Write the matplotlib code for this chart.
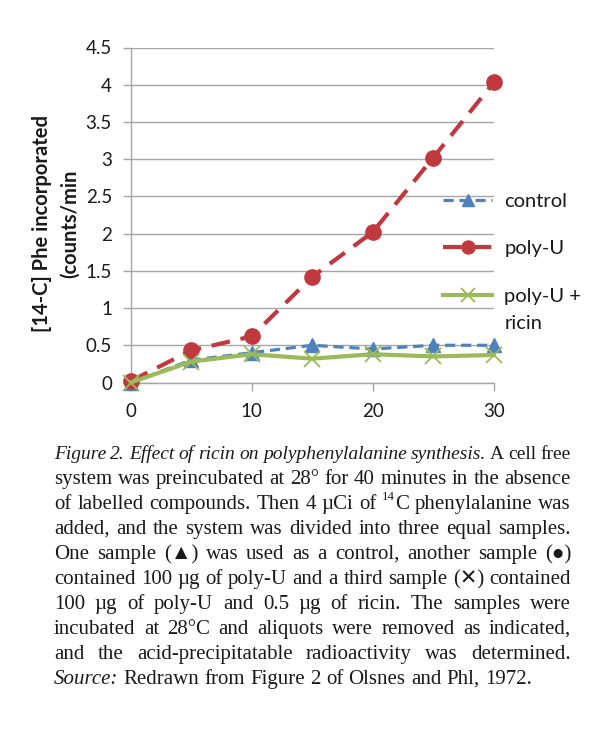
import matplotlib
matplotlib.use('Agg')
import matplotlib.pyplot as plt

# ---------------- data ----------------
time_min = [0, 5, 10, 15, 20, 25, 30]
control = [0.0, 0.30, 0.40, 0.50, 0.45, 0.50, 0.50]
poly_u = [0.02, 0.43, 0.62, 1.42, 2.02, 3.02, 4.03]
poly_u_ricin = [0.0, 0.28, 0.38, 0.32, 0.38, 0.35, 0.37]
series_labels = ['control', 'poly-U', 'poly-U +\nricin']
x_ticks = [0, 10, 20, 30]
y_ticks = [0, 0.5, 1, 1.5, 2, 2.5, 3, 3.5, 4, 4.5]
y_tick_labels = ['0', '0.5', '1', '1.5', '2', '2.5', '3', '3.5', '4', '4.5']
y_label = '[14-C] Phe incorporated\n(counts/min'
caption_lines = [
    "*Figure 2. Effect of ricin on polyphenylalanine synthesis.* A cell free",
    "system was preincubated at 28° for 40 minutes in the absence",
    "of labelled compounds. Then 4 µCi of ^14^C phenylalanine was",
    "added, and the system was divided into three equal samples.",
    "One sample (▲) was used as a control, another sample (●)",
    "contained 100 µg of poly-U and a third sample (✕) contained",
    "100 µg of poly-U and 0.5 µg of ricin. The samples were",
    "incubated at 28°C and aliquots were removed as indicated,",
    "and the acid-precipitatable radioactivity was determined.",
    "*Source:* Redrawn from Figure 2 of Olsnes and Phl, 1972.",
]

W, H = 603, 745
fig = plt.figure(figsize=(W / 100, H / 100), dpi=100)
fig.patch.set_facecolor('white')

x0, x1 = 130.7, 493.7
ytop, ybot = 47.5, 382.5
ax = fig.add_axes([x0 / W, 1 - ybot / H, (x1 - x0) / W, (ybot - ytop) / H])

sans = ['Lato', 'DejaVu Sans']
grey = '#a6a6a6'
txt = '#1a1a1a'

ax.plot(time_min, control, color='#4f81bd', lw=2.3, dashes=(3.2, 1.8),
        marker='^', ms=10, mfc='#4f81bd', mec='#4f81bd', clip_on=False,
        label=series_labels[0].split('\n')[0], zorder=3)
ax.plot(time_min, poly_u, color='#c0393f', lw=3, dashes=(4.5, 2.6),
        marker='o', ms=11, mfc='#c0393f', mec='#c0393f', clip_on=False,
        label=series_labels[1].split('\n')[0], zorder=3)
ax.plot(time_min, poly_u_ricin, color='#9bbb59', lw=3,
        marker='x', ms=12, mew=1.3, mec='#9bbb59', clip_on=False,
        label=series_labels[2].split('\n')[0], zorder=4)

ax.set_xlim(0, 30)
ax.set_ylim(0, 4.5)
ax.set_xticks(x_ticks)
ax.set_yticks(y_ticks)
ax.set_yticklabels(y_tick_labels)
ax.yaxis.grid(True, color=grey, lw=1)
ax.set_axisbelow(True)
for s in ['top', 'right']:
    ax.spines[s].set_visible(False)
for s in ['left', 'bottom']:
    ax.spines[s].set_color(grey)
    ax.spines[s].set_linewidth(1)
ax.tick_params(axis='y', length=5.5, width=1, color=grey, pad=8,
               labelsize=13.5, labelcolor=txt)
ax.tick_params(axis='x', length=5.5, width=1, color=grey, pad=9,
               labelsize=13.5, labelcolor=txt)
for lab in ax.get_xticklabels() + ax.get_yticklabels():
    lab.set_family(sans)

fig.text(56 / W, 1 - 224 / H, y_label, rotation=90, ha='center', va='center',
         multialignment='center', fontsize=14.5, fontweight='bold',
         family=sans, color=txt, linespacing=1.45)

leg_fs = 14.5
leg = ax.legend(loc='upper left', bbox_to_anchor=(443 / W, 1 - 193 / H),
                bbox_transform=fig.transFigure, frameon=False,
                prop={'family': sans, 'size': leg_fs}, handlelength=2.45,
                handletextpad=0.6, labelspacing=1.5, borderpad=0,
                borderaxespad=0, markerscale=0.85)
for t in leg.get_texts():
    t.set_color(txt)

renderer = fig.canvas.get_renderer()
fig.canvas.draw()
# continuation lines of multi-line legend labels
for t, lab in zip(leg.get_texts(), series_labels):
    extra = lab.split('\n')[1:]
    if extra:
        bb = t.get_window_extent(renderer)
        for k, e in enumerate(extra):
            fig.text(bb.x0 / W, (bb.y0 - 27 * (k + 1) + 0.5 * (bb.y1 - bb.y0)) / H,
                     e, fontsize=leg_fs, family=sans, color=txt,
                     ha='left', va='center')

# ---------------- caption (justified) ----------------
serif = ['Liberation Serif', 'DejaVu Sans']
fs = 15


def parse(line):
    words = []
    cur = []
    buf = ''
    italic = False
    sup = False
    for ch in line:
        if ch in '*^ ':
            if buf:
                cur.append((buf, italic, sup))
                buf = ''
            if ch == '*':
                italic = not italic
            elif ch == '^':
                sup = not sup
            else:
                if cur:
                    words.append(cur)
                cur = []
        else:
            buf += ch
    if buf:
        cur.append((buf, italic, sup))
    if cur:
        words.append(cur)
    return words


def make_text(s, italic, sup, size):
    t = fig.text(0, 0, s, fontsize=size * (0.62 if sup else 1.0),
                 style='italic' if italic else 'normal', family=serif,
                 color=txt, va='baseline', ha='left')
    w = t.get_window_extent(renderer).width
    return t, w


tmp1, wa = make_text('n n', False, False, fs)
tmp2, wb = make_text('nn', False, False, fs)
space_w = wa - wb
tmp1.remove()
tmp2.remove()

L, R = 54.0, 571.0


def build(words, size):
    built = []
    total = 0.0
    for word in words:
        segs = []
        ww = 0.0
        for s, it, sp in word:
            t, w = make_text(s, it, sp, size)
            segs.append((t, w, sp))
            ww += w
        built.append((segs, ww))
        total += ww
    return built, total


base0, step = 459.0, 25.0
for i, line in enumerate(caption_lines):
    words = parse(line)
    size = fs
    built, total = build(words, size)
    min_gap = 0.75 * space_w
    need = total + (len(built) - 1) * min_gap
    if need > R - L:
        for segs, _ in built:
            for t, _, _ in segs:
                t.remove()
        size = fs * (R - L - (len(built) - 1) * min_gap) / total
        built, total = build(words, size)
    last = (i == len(caption_lines) - 1)
    if last or len(built) < 2:
        gap = space_w
    else:
        gap = (R - L - total) / (len(built) - 1)
    x = L
    yb = round(base0 + i * step)
    for segs, ww in built:
        for t, w, sp in segs:
            yy = yb - (round(size * 100 / 72 * 0.42) if sp else 0)
            t.set_position((x / W, 1 - yy / H))
            x += w
        x += gap

fig.savefig('out.png', dpi=100, facecolor='white')
